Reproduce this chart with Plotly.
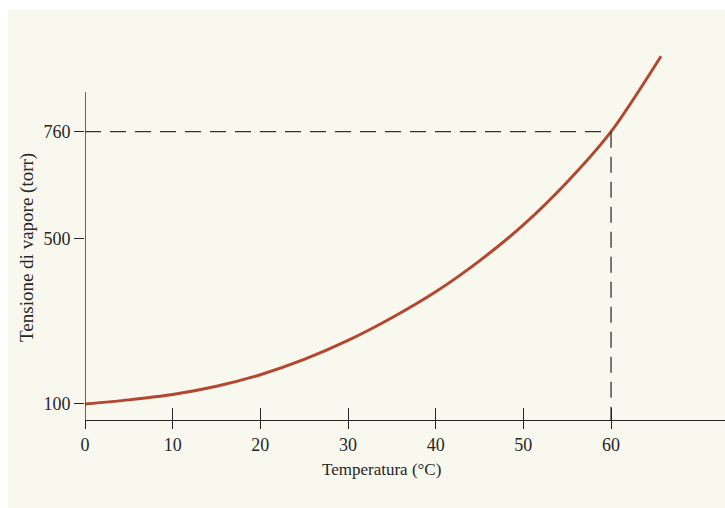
import plotly.graph_objects as go

# Data
temperature = [0, 5, 10, 15, 20, 25, 30, 35, 40, 45, 50, 55, 60, 65.7]
pressure = [100, 110, 123, 143, 171, 208, 254, 309, 372, 447, 534, 638, 760, 943]

x_ticks = [0, 10, 20, 30, 40, 50, 60]
y_ticks = [100, 500, 760]
boil_T = 60
boil_P = 760

x_range = [0, 73.0]
y_range = [61.2, 958]
y_axis_top = 856

curve_color = "#B3472F"
ink = "#262626"
font_family = "Liberation Serif, Times New Roman, serif"

fig = go.Figure()

# dashed guide lines
fig.add_trace(go.Scatter(
    x=[x_range[0], boil_T], y=[boil_P, boil_P], mode="lines",
    line=dict(color="#333333", width=1.3, dash="16px,9px"),
    hoverinfo="skip", showlegend=False))
fig.add_trace(go.Scatter(
    x=[boil_T, boil_T], y=[boil_P, y_range[0]], mode="lines",
    line=dict(color="#333333", width=1.3, dash="16px,9px"),
    hoverinfo="skip", showlegend=False, xaxis="x2"))

# vapour-pressure curve
fig.add_trace(go.Scatter(
    x=temperature, y=pressure, mode="lines",
    line=dict(color=curve_color, width=3, shape="spline", smoothing=0.8),
    showlegend=False))

# y axis line (ends below the top of the drawing area)
fig.add_shape(type="line", xref="x", yref="y",
              x0=x_range[0], x1=x_range[0], y0=y_range[0], y1=y_axis_top,
              line=dict(color=ink, width=1.4))

# white edges of the scanned page
fig.add_shape(type="rect", xref="paper", yref="paper",
              x0=-0.14, x1=1.01, y0=1.108, y1=1.2,
              fillcolor="white", line=dict(width=0), layer="below")
fig.add_shape(type="rect", xref="paper", yref="paper",
              x0=-0.14, x1=-0.1203, y0=-0.3, y1=1.2,
              fillcolor="white", line=dict(width=0), layer="below")

fig.add_annotation(text="Temperatura (°C)", xref="paper", yref="paper",
                   x=0.4625, y=-0.135, xanchor="center", yanchor="middle",
                   showarrow=False,
                   font=dict(family=font_family, size=17, color=ink))
fig.add_annotation(text="Tensione di vapore (torr)", xref="paper", yref="paper",
                   x=-0.0906, y=0.465, xanchor="center", yanchor="middle",
                   showarrow=False, textangle=-90,
                   font=dict(family=font_family, size=19, color=ink))

fig.update_layout(
    width=725, height=508,
    margin=dict(l=85, r=0, t=50, b=88),
    paper_bgcolor="#F9F8EF", plot_bgcolor="rgba(0,0,0,0)",
    font=dict(family=font_family, size=18, color=ink),
    showlegend=False,
    hovermode=False,
    xaxis=dict(range=x_range, tickvals=x_ticks, ticks="outside", ticklen=8,
               tickwidth=1.3, tickcolor=ink, showline=True, linecolor=ink,
               linewidth=1.4, showgrid=False, zeroline=False,
               tickfont=dict(family=font_family, size=18, color=ink)),
    xaxis2=dict(range=x_range, matches="x", overlaying="x", anchor="y",
                tickvals=x_ticks, ticks="inside", ticklen=12, tickwidth=1.3,
                tickcolor=ink, showticklabels=False, showline=False,
                showgrid=False, zeroline=False, side="bottom"),
    yaxis=dict(range=y_range, tickvals=y_ticks, ticks="outside", ticklen=10,
               tickwidth=1.3, tickcolor=ink, showline=False, showgrid=False,
               zeroline=False,
               tickfont=dict(family=font_family, size=18, color=ink)),
)

fig.write_html(
    "out.html",
    config={"displayModeBar": False},
    post_script="document.body.style.margin='0';document.body.style.overflow='hidden';",
)
